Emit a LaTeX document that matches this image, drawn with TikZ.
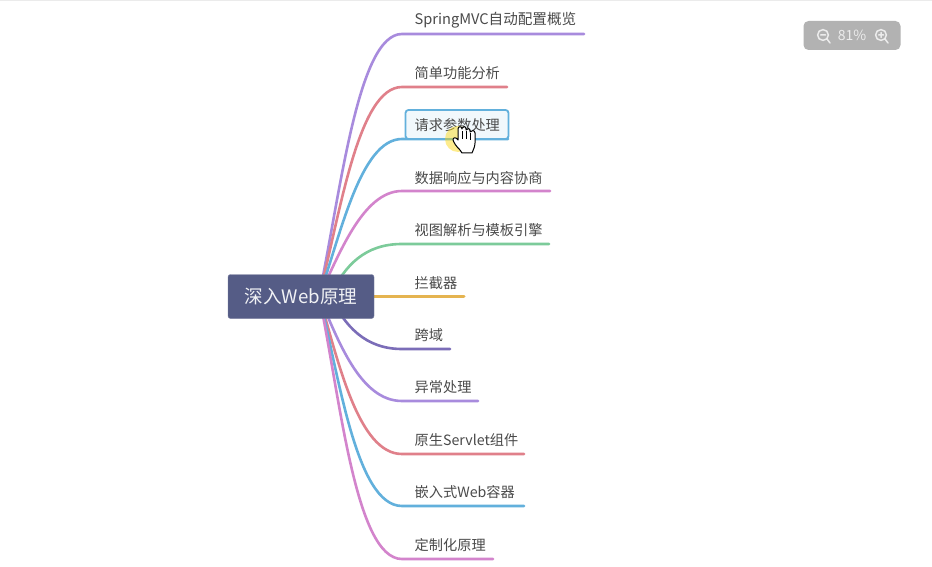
\documentclass[tikz,border=0pt]{standalone}
\usepackage{fontspec}
\setmainfont{Noto Sans CJK SC}
\usetikzlibrary{calc}
\definecolor{cpurple}{HTML}{A88BDD}
\definecolor{cred}{HTML}{E0808A}
\definecolor{cblue}{HTML}{62B0DC}
\definecolor{cpink}{HTML}{D384CC}
\definecolor{cgreen}{HTML}{7CCB9A}
\definecolor{cyellow}{HTML}{E5B450}
\definecolor{cviolet}{HTML}{7B6DB8}
\definecolor{rootfill}{HTML}{555C86}
\definecolor{txt}{HTML}{4A4A4A}
\tikzset{
  x=1pt,y=-1pt,
  branch/.style={line width=2.6pt,line cap=round,line join=round},
  topic/.style={anchor=west,inner sep=0pt,font=\fontsize{14.2}{16}\selectfont,text=txt},
  zoomglyph/.style={draw=white!85!gray,line width=1.5pt,line cap=round},
}
\begin{document}
\begin{tikzpicture}
\useasboundingbox (0,0) rectangle (932,567);
\fill[white] (0,0) rectangle (932,567);
\draw[black!8,line width=1pt] (0,0.5) -- (932,0.5);
\coordinate (hub) at (319,296);
\coordinate (hubb) at (330,296);
\coordinate (hubc) at (360,296.4);
\coordinate (e1) at (584,34);
\coordinate (e2) at (507,87);
\coordinate (e3) at (508,139);
\coordinate (e4) at (550,191);
\coordinate (e5) at (549,244);
\coordinate (e6) at (464,296.4);
\coordinate (e7) at (450,349);
\coordinate (e8) at (478,401);
\coordinate (e9) at (524,454);
\coordinate (e10) at (524,506);
\coordinate (e11) at (493,559);
% upper branches
\draw[branch,cpurple] (hub) .. controls (341,190) and (358,34) .. (402,34) -- (e1);
\draw[branch,cred] (hub) .. controls (340,215) and (358,87) .. (402,87) -- (e2);
\draw[branch,cblue] (hub) .. controls (340,238) and (360,139) .. (402,139) -- (e3);
\draw[branch,cpink] (hub) .. controls (338,258) and (362,191) .. (402,191) -- (e4);
\draw[branch,cgreen] (hubb) .. controls (345,265) and (365,244) .. (402,244) -- (e5);
\draw[branch,cyellow,line width=3pt] (hubc) -- (e6);
% lower branches
\draw[branch,cviolet] (hubb) .. controls (345,326) and (365,349) .. (402,349) -- (e7);
\draw[branch,cpurple] (hub) .. controls (338,340) and (360,401) .. (402,401) -- (e8);
\draw[branch,cred] (hub) .. controls (338,360) and (358,454) .. (402,454) -- (e9);
\draw[branch,cblue] (hub) .. controls (339,375) and (356,506) .. (402,506) -- (e10);
\draw[branch,cpink] (hub) .. controls (340,395) and (355,559) .. (402,559) -- (e11);
% root
\node[fill=rootfill,draw=rootfill!80!white,rounded corners=2.5pt,minimum width=146pt,minimum height=44pt,inner sep=0pt,text=white!92!rootfill,font=\fontsize{18.6}{20}\selectfont] (root) at (301,296.5) {深入Web原理};
% selection box
\node[draw=cblue,line width=1.8pt,fill=cblue!9,rounded corners=3pt,minimum width=103pt,minimum height=29pt,inner sep=0pt] (sel) at (457,124.5) {};
% labels
\node[topic,font=\fontsize{14.6}{16}\selectfont] (t1) at (414.5,20.5) {SpringMVC自动配置概览};
\node[topic] (t2) at (414.5,73) {简单功能分析};
\node[topic] (t3) at (414.5,125) {请求参数处理};
\node[topic] (t4) at (414.5,178) {数据响应与内容协商};
\node[topic] (t5) at (414.5,230) {视图解析与模板引擎};
\node[topic] (t6) at (414.5,283) {拦截器};
\node[topic] (t7) at (414.5,335) {跨域};
\node[topic] (t8) at (414.5,387) {异常处理};
\node[topic] (t9) at (414.5,440) {原生Servlet组件};
\node[topic] (t10) at (414.5,492) {嵌入式Web容器};
\node[topic] (t11) at (414.5,545) {定制化原理};
% cursor highlight and hand
\fill[yellow!75!orange,opacity=.45] (458,139) circle (13);
\begin{scope}[shift={(2,0)}]
\draw[black,line width=1pt,fill=white,line join=round]
  (458,150) .. controls (454,146) and (452,143) .. (451,140)
  .. controls (451,137) and (454,137) .. (456,140)
  -- (456,129) .. controls (456,126) and (460,126) .. (460,129)
  -- (460,128) .. controls (461,126) and (464,126) .. (464,129)
  -- (464,130) .. controls (465,128) and (468,128) .. (468,131)
  -- (468,132) .. controls (469,130) and (473,130) .. (473,133)
  -- (473,143) .. controls (473,147) and (471,150) .. (470,153)
  -- (460,153) -- cycle;
\draw[black,line width=.8pt] (460,131)--(460,139) (464,131)--(464,139) (468,133)--(468,140);
\end{scope}
% zoom badge
\node[fill=black!30,rounded corners=5pt,minimum width=97pt,minimum height=29pt,inner sep=0pt,text=white!85!gray,font=\fontsize{14}{16}\selectfont] (badge) at (852,35.5) {81\%};
\draw[zoomglyph] (823,35) circle (5.4) (827,39) -- (830,43) (820.5,35) -- (825.5,35);
\draw[zoomglyph] (881,35) circle (5.4) (885,39) -- (888,43) (878.5,35) -- (883.5,35) (881,32.5) -- (881,37.5);
\end{tikzpicture}
\end{document}
